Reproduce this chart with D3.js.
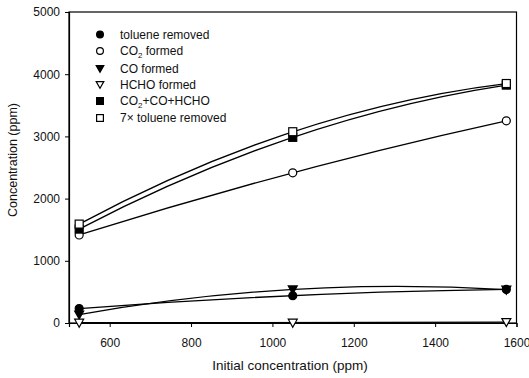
<!DOCTYPE html>
<html><head><meta charset="utf-8">
<script src="https://cdn.jsdelivr.net/npm/d3@7"></script>
<style>
body{margin:0;background:#fff;}
text{font-family:"Liberation Sans",Arial,sans-serif;fill:#111;}
</style></head>
<body><svg id="c" width="529" height="378"></svg>
<script>
const xValues = [525, 1050, 1575];
const tolueneRemoved = [232, 440, 540];
const co2Formed = [1415, 2415, 3250];
const coFormed = [135, 540, 535];
const hchoFormed = [5, 5, 15];
const co2CoHcho = [1510, 2985, 3825];
const toluene7x = [1590, 3075, 3850];
const xTicks = [600, 800, 1000, 1200, 1400, 1600];
const yTicks = [0, 1000, 2000, 3000, 4000, 5000];

const series = [
  {name: "toluene removed", sym: "circle", fill: "#000", v: tolueneRemoved},
  {name: "CO2 formed", sym: "circle", fill: "#fff", v: co2Formed},
  {name: "CO formed", sym: "tri", fill: "#000", v: coFormed},
  {name: "HCHO formed", sym: "tri", fill: "#fff", v: hchoFormed},
  {name: "CO2+CO+HCHO", sym: "square", fill: "#000", v: co2CoHcho},
  {name: "7× toluene removed", sym: "square", fill: "#fff", v: toluene7x}
];

const svg = d3.select("#c");
const L = 69, R = 516.5, T = 12, B = 323;
const x = d3.scaleLinear().domain([500, 1600]).range([L, R]);
const y = d3.scaleLinear().domain([0, 5000]).range([B, T]);

// quadratic curve through 3 points (parabolic fit drawn as quadratic Bezier)
function Parab(context){ this._c = context; }
Parab.prototype = {
  areaStart(){}, areaEnd(){},
  lineStart(){ this._p = []; },
  point(px, py){ this._p.push([px, py]); },
  lineEnd(){
    const p = this._p, c = this._c;
    if (p.length === 3) {
      const cx = 2*p[1][0] - (p[0][0]+p[2][0])/2;
      const cy = 2*p[1][1] - (p[0][1]+p[2][1])/2;
      c.moveTo(p[0][0], p[0][1]);
      c.quadraticCurveTo(cx, cy, p[2][0], p[2][1]);
    } else {
      p.forEach((q,i)=> i ? c.lineTo(q[0],q[1]) : c.moveTo(q[0],q[1]));
    }
  }
};
const parab = ctx => new Parab(ctx);

// frame
svg.append("rect").attr("x", L).attr("y", T).attr("width", R-L).attr("height", B-T)
  .attr("fill","none").attr("stroke","#000").attr("stroke-width",1.2);

const xAxis = svg.append("g").attr("transform",`translate(0,${B})`)
  .call(d3.axisBottom(x).tickValues(xTicks).tickSize(4).tickPadding(11).tickFormat(d3.format("d")));
const yAxis = svg.append("g").attr("transform",`translate(${L},0)`)
  .call(d3.axisLeft(y).tickValues(yTicks).tickSize(4).tickPadding(5).tickFormat(d3.format("d")));
[xAxis, yAxis].forEach(a=>{
  a.select(".domain").attr("stroke","#000").attr("stroke-width",1.2);
  a.selectAll(".tick line").attr("stroke","#000").attr("stroke-width",1);
  a.selectAll("text").style("font-family","'Liberation Sans',Arial,sans-serif").style("font-size","12px").attr("fill","#111");
});

svg.append("text").attr("x", 290).attr("y", 370).attr("text-anchor","middle")
  .style("font-size","13.5px").text("Initial concentration (ppm)");
svg.append("text").attr("transform",`translate(17,160) rotate(-90)`).attr("text-anchor","middle")
  .style("font-size","12.5px").text("Concentration (ppm)");

const line = d3.line().x((d,i)=>x(xValues[i])).y(d=>y(d)).curve(parab);

const g = svg.append("g");
series.forEach(s=>{
  g.append("path").attr("d", line(s.v)).attr("fill","none").attr("stroke","#000").attr("stroke-width",1.3);
});

function marker(sel, sym, fill, cx, cy, k){
  k = k || 1;
  if (sym === "circle") {
    sel.append("circle").attr("cx",cx).attr("cy",cy).attr("r",4*k)
      .attr("fill",fill).attr("stroke","#000").attr("stroke-width",1.2);
  } else if (sym === "square") {
    sel.append("rect").attr("x",cx-4*k).attr("y",cy-4*k).attr("width",8*k).attr("height",8*k)
      .attr("fill",fill).attr("stroke","#000").attr("stroke-width",1.2);
  } else {
    sel.append("path").attr("d",`M${cx-4.5*k},${cy-3.5*k}L${cx+4.5*k},${cy-3.5*k}L${cx},${cy+4.5*k}Z`)
      .attr("fill",fill).attr("stroke","#000").attr("stroke-width",1.2);
  }
}
series.forEach(s=>{
  s.v.forEach((v,i)=> marker(g, s.sym, s.fill, x(xValues[i]), y(v)));
});

// legend
const leg = svg.append("g");
const legY = [34.5, 51, 68.5, 84.5, 101, 118];
series.forEach((s,i)=>{
  marker(leg, s.sym, s.fill, 100, legY[i], 0.85);
  const t = leg.append("text").attr("x", 120).attr("y", legY[i]+4).style("font-size","12px");
  if (s.name.indexOf("CO2") === 0) {
    t.append("tspan").text("CO");
    t.append("tspan").attr("dy",3).style("font-size","8px").text("2");
    t.append("tspan").attr("dy",-3).text(s.name.slice(3));
  } else t.text(s.name);
});
</script></body></html>
